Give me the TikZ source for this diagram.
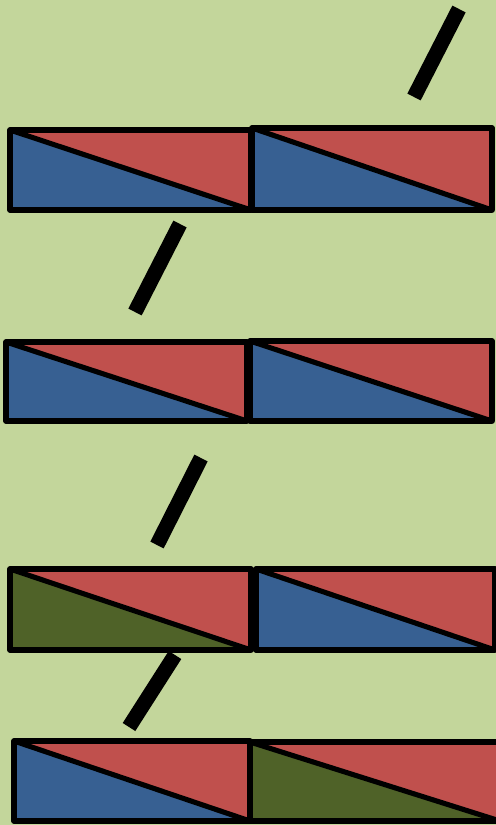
\documentclass[tikz,border=0pt]{standalone}
\usepackage{xcolor}
\usepackage{tikz}
\definecolor{tlbg}{HTML}{C3D69B}
\definecolor{tlred}{HTML}{C0504D}
\definecolor{tlblue}{HTML}{376092}
\definecolor{tlgreen}{HTML}{4F6228}

% one tile: corners (x1,y1) (x2,y2), lower-left colour
\newcommand{\halftile}[5]{%
  \fill[tlred] (#1,#2) rectangle (#3,#4);
  \fill[#5] (#1,#2) -- (#3,#4) -- (#1,#4) -- cycle;
  \draw[edge] (#1,#2) rectangle (#3,#4);
  \draw[edge] (#1,#2) -- (#3,#4);
}

\begin{document}
\begin{tikzpicture}[
  x=0.02cm, y=-0.02cm,
  edge/.style={draw=black, line width=2.9pt, line join=round},
  bar/.style={draw=black, line width=8.5pt}
]
  \fill[tlbg] (0,0) rectangle (496,825);
  \useasboundingbox (0,0) rectangle (496,825);
  \clip (0,0) rectangle (496,825);

  % row 1
  \halftile{10}{130}{251}{210}{tlblue}
  \halftile{252}{128}{492}{210}{tlblue}
  % row 2
  \halftile{6}{342}{247}{421}{tlblue}
  \halftile{250}{341}{492}{421}{tlblue}
  % row 3
  \halftile{10}{569}{251}{650}{tlgreen}
  \halftile{256}{569}{495}{650}{tlblue}
  % row 4
  \halftile{14}{741}{250}{821}{tlblue}
  \halftile{250}{742}{500}{821}{tlgreen}

  % slashes
  \coordinate (s1a) at (459,9);   \coordinate (s1b) at (414,97);
  \coordinate (s2a) at (180,224); \coordinate (s2b) at (135,312);
  \coordinate (s3a) at (201,458); \coordinate (s3b) at (157,545);
  \coordinate (s4a) at (175,655); \coordinate (s4b) at (129,727);
  \foreach \s in {1,2,3,4}
    \draw[bar] (s\s a) -- (s\s b);
\end{tikzpicture}
\end{document}
